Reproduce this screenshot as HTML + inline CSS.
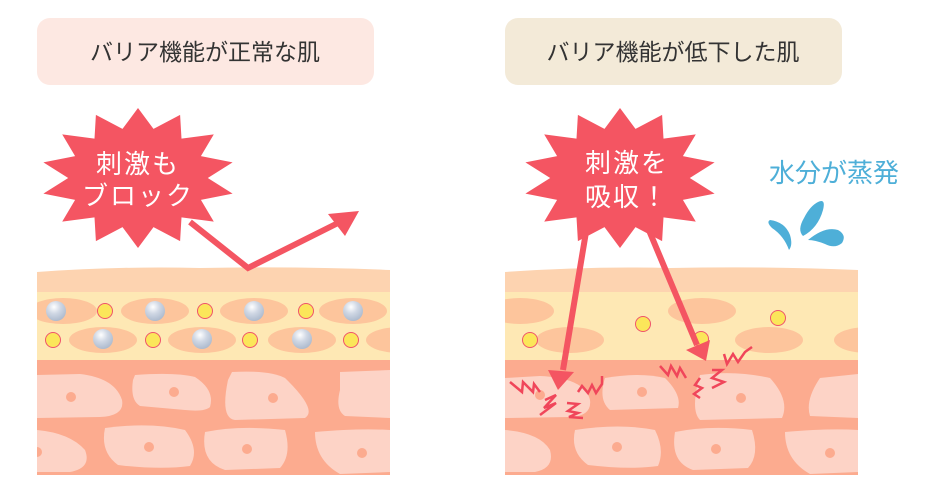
<!DOCTYPE html>
<html><head><meta charset="utf-8"><style>
body{margin:0;background:#fff;width:939px;height:492px;overflow:hidden}
svg{display:block}
text{font-family:"Liberation Sans","Noto Sans CJK JP",sans-serif}
</style></head><body>
<svg id="s" width="939" height="492" viewBox="0 0 939 492" xmlns="http://www.w3.org/2000/svg">
<defs>
<radialGradient id="ball" cx="0.4" cy="0.3" r="0.75"><stop offset="0" stop-color="#ffffff"/><stop offset="0.45" stop-color="#cfd7e4"/><stop offset="1" stop-color="#a9b7cb"/></radialGradient>
<clipPath id="cl"><rect x="37" y="260" width="353" height="215"/></clipPath>
<clipPath id="cr"><rect x="505" y="260" width="353" height="215"/></clipPath>
</defs>
<rect x="37" y="18" width="337" height="67" rx="13" fill="#fde8e2"/>
<text x="205" y="60" font-size="23" fill="#333" text-anchor="middle">バリア機能が正常な肌</text>
<rect x="505" y="18" width="337" height="67" rx="13" fill="#f3ead8"/>
<text x="673" y="60" font-size="23" fill="#333" text-anchor="middle">バリア機能が低下した肌</text>

<g clip-path="url(#cl)">
<path d="M37 272 Q120 266 200 268 Q300 266 390 270 L390 475 L37 475Z" fill="#fdd3b0"/>
<rect x="37" y="292" width="353" height="68" fill="#fee8b4"/>
<g fill="#fdc59c">
<ellipse cx="63" cy="311" rx="34" ry="13"/><ellipse cx="155" cy="311" rx="34" ry="13"/><ellipse cx="254" cy="311" rx="34" ry="13"/><ellipse cx="353" cy="311" rx="34" ry="13"/>
<ellipse cx="103" cy="340" rx="34" ry="13"/><ellipse cx="202" cy="340" rx="34" ry="13"/><ellipse cx="302" cy="340" rx="34" ry="13"/><ellipse cx="400" cy="340" rx="34" ry="13"/>
</g>
<g fill="url(#ball)">
<circle cx="56" cy="311" r="10"/><circle cx="155" cy="311" r="10"/><circle cx="254" cy="311" r="10"/><circle cx="353" cy="311" r="10"/>
<circle cx="103" cy="339" r="10"/><circle cx="202" cy="339" r="10"/><circle cx="302" cy="339" r="10"/>
</g>
<g fill="#fbe65a" stroke="#f0546a" stroke-width="1">
<circle cx="105" cy="311" r="7.5"/><circle cx="205" cy="311" r="7.5"/><circle cx="306" cy="311" r="7.5"/>
<circle cx="53" cy="340" r="7.5"/><circle cx="153" cy="340" r="7.5"/><circle cx="250" cy="340" r="7.5"/><circle cx="351" cy="340" r="7.5"/>
</g>
<rect x="37" y="360" width="353" height="115" fill="#fcab8f"/>
<g fill="#fdd3c6">
<path d="M37 375 L80 374 Q115 378 122 400 Q125 416 100 417 L37 418Z"/>
<path d="M135 375 Q175 372 195 377 Q215 390 210 407 Q205 412 185 410 L140 406 Q130 400 133 380Z"/>
<path d="M232 372 Q270 370 285 378 Q318 410 305 418 L235 420 Q220 418 228 380Z"/>
<path d="M340 372 L390 370 L390 418 L345 416 Q335 410 340 390Z"/>
<path d="M37 430 Q70 433 85 450 Q92 468 70 472 L37 472Z"/>
<path d="M105 428 Q150 422 185 430 Q200 450 190 466 Q160 470 118 465 Q100 452 105 428Z"/>
<path d="M205 432 Q240 425 285 430 Q292 455 280 468 L225 470 Q200 462 205 432Z"/>
<path d="M315 432 Q360 428 390 430 L390 472 L340 474 Q315 460 315 432Z"/>
</g>
<g fill="#fcab8f"><circle cx="71" cy="397" r="5"/><circle cx="174" cy="392" r="5"/><circle cx="273" cy="398" r="5"/><circle cx="149" cy="447" r="5"/><circle cx="247" cy="449" r="5"/><circle cx="362" cy="453" r="5"/><circle cx="37" cy="452" r="5"/></g>
</g>

<g clip-path="url(#cr)">
<path d="M505 272 Q590 266 670 268 Q770 266 858 270 L858 475 L505 475Z" fill="#fdd3b0"/>
<rect x="505" y="292" width="353" height="68" fill="#fee8b4"/>
<g fill="#fdc59c">
<ellipse cx="520" cy="311" rx="34" ry="13"/><ellipse cx="702" cy="311" rx="34" ry="13"/>
<ellipse cx="570" cy="340" rx="34" ry="13"/><ellipse cx="769" cy="340" rx="34" ry="13"/><ellipse cx="868" cy="340" rx="34" ry="13"/>
</g>
<g fill="#fbe65a" stroke="#f0546a" stroke-width="1">
<circle cx="530" cy="340" r="7.5"/><circle cx="643" cy="324" r="7.5"/><circle cx="701" cy="339" r="7.5"/><circle cx="778" cy="318" r="7.5"/>
</g>
<rect x="505" y="360" width="353" height="115" fill="#fcab8f"/>
<g fill="#fdd3c6">
<path d="M505 378 L540 376 Q585 378 590 400 Q592 416 570 417 L505 418Z"/>
<path d="M605 378 Q640 372 665 378 Q682 395 678 408 L610 410 Q598 400 605 378Z"/>
<path d="M700 375 Q735 370 770 378 Q790 400 782 418 L700 420 Q690 410 700 375Z"/>
<path d="M820 378 L858 374 L858 418 L810 416 Q805 400 820 378Z"/>
<path d="M505 430 Q540 433 550 450 Q555 468 535 472 L505 472Z"/>
<path d="M575 430 Q620 423 655 430 Q665 450 658 466 Q630 470 588 465 Q570 452 575 430Z"/>
<path d="M675 432 Q710 425 752 430 Q760 455 748 468 L693 470 Q670 462 675 432Z"/>
<path d="M785 432 Q830 428 858 430 L858 472 L810 474 Q785 460 785 432Z"/>
</g>
<g fill="#fcab8f"><circle cx="540" cy="395" r="5"/><circle cx="642" cy="392" r="5"/><circle cx="741" cy="398" r="5"/><circle cx="617" cy="447" r="5"/><circle cx="716" cy="449" r="5"/><circle cx="830" cy="453" r="5"/></g>
</g>

<polyline points="190,222 248,268 340,222" fill="none" stroke="#f45562" stroke-width="6" stroke-linejoin="miter"/>
<polygon points="359,211 328,214 345,236" fill="#f45562"/>
<polygon id="b1" fill="#f45562"/>
<text x="138" y="173" font-size="26" fill="#fff" text-anchor="middle" letter-spacing="2">刺激も</text>
<text x="138" y="205" font-size="26" fill="#fff" text-anchor="middle" letter-spacing="2">ブロック</text>

<line x1="586" y1="232" x2="563" y2="370" stroke="#f45562" stroke-width="6"/>
<polygon points="558,390 548,370 574,372" fill="#f45562"/>
<line x1="648" y1="228" x2="697" y2="345" stroke="#f45562" stroke-width="6"/>
<polygon points="706,361 686,350 710,340" fill="#f45562"/>
<polygon id="b2" fill="#f45562"/>
<text x="627" y="172" font-size="26" fill="#fff" text-anchor="middle" letter-spacing="2">刺激を</text>
<text x="627" y="206" font-size="26" fill="#fff" text-anchor="middle" letter-spacing="2">吸収！</text>

<g fill="none" stroke="#f0465a" stroke-width="2.5" stroke-linejoin="miter">
<polyline points="510,382 522,392 523,382 533,392 534,384 540,392"/>
<polyline points="578,392 582,386 588,393 592,385 596,393 602,384 602,376"/>
<polyline points="545,400 556,395 544,408 556,403 540,415"/>
<polyline points="567,403 578,404 568,411 578,413 569,417 583,418"/>
<polyline points="660,366 668,375 671,366 677,376 680,368 686,378"/>
<polyline points="724,354 727,364 733,354 738,362 745,352 752,347"/>
<polyline points="712,370 722,370 712,378 724,382 712,388"/>
<polyline points="700,378 695,385 702,388 694,394 700,398"/>
</g>

<text x="769" y="182" font-size="26" fill="#4eafd8">水分が蒸発</text>
<g fill="#4eafd8">
<path d="M770 220 Q785 222 790 235 Q793 245 789 250 Q784 236 772 228 Q766 222 770 220Z"/>
<path d="M818 202 Q826 198 823 210 Q818 228 803 236 Q797 230 804 218 Q810 206 818 202Z"/>
<path d="M808 240 Q825 226 838 230 Q847 235 842 243 Q835 249 825 244 Q815 240 808 240Z"/>
</g>
</svg>
<script>
function burst(id,cx,cy,rx,ry,n,k){var p=[];for(var i=0;i<2*n;i++){var a=Math.PI*i/n-Math.PI/2;var f=i%2?k:1;p.push((cx+rx*f*Math.cos(a)).toFixed(1)+','+(cy+ry*f*Math.sin(a)).toFixed(1));}document.getElementById(id).setAttribute('points',p.join(' '));}
burst('b1',138,178,97,70,14,0.72);
burst('b2',620,178,97,70,14,0.72);
</script>
</body></html>
